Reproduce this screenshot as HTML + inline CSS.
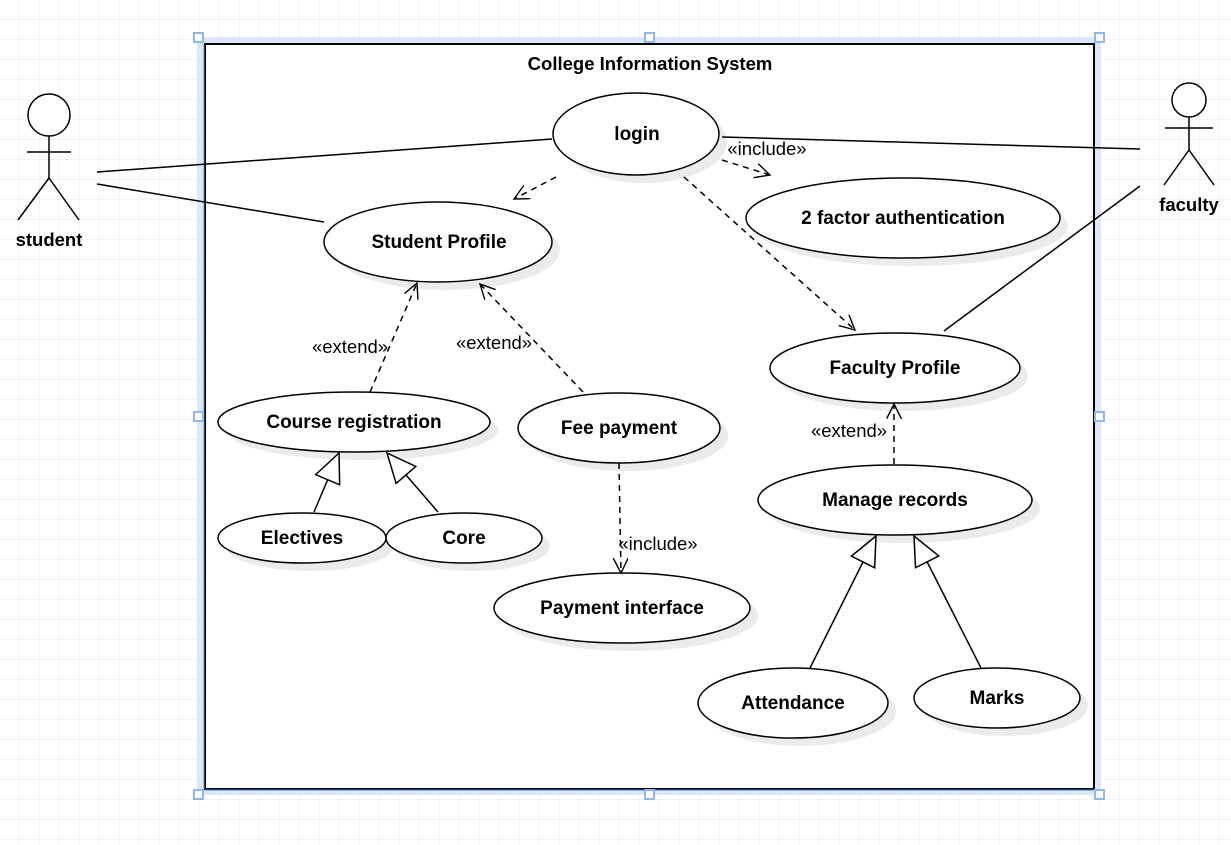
<!DOCTYPE html>
<html><head><style>
html,body{margin:0;padding:0;background:#fff;}
svg{display:block;}
text{font-family:"Liberation Sans",Arial,sans-serif;fill:#000;}
.b{font-weight:bold;font-size:19px;}
.l{font-size:18.5px;fill:#222;}
</style></head><body>
<svg width="1231" height="845" viewBox="0 0 1231 845" xmlns="http://www.w3.org/2000/svg">
<defs>
<pattern id="g" width="20" height="20" patternUnits="userSpaceOnUse">
<path d="M20 0V20M0 20H20" stroke="#e6e6e6" stroke-width="1" fill="none"/>
</pattern>
<marker id="open" markerWidth="20" markerHeight="20" refX="15" refY="7.5" orient="auto" markerUnits="userSpaceOnUse">
<path d="M0 0 L15 7.5 L0 15" fill="none" stroke="#000" stroke-width="1.4"/>
</marker>
<marker id="tri" markerWidth="34" markerHeight="30" refX="31" refY="14" orient="auto" markerUnits="userSpaceOnUse">
<path d="M31 14 L2 1 L2 27 Z" fill="#fff" stroke="#000" stroke-width="1.5"/>
</marker>
</defs>
<rect width="1231" height="845" fill="#fff"/>
<rect width="1231" height="845" fill="url(#g)"/>
<rect x="200" y="40" width="898" height="752" fill="none" stroke="#dbe8fb" stroke-width="6"/>
<rect x="205" y="44" width="889" height="745" fill="#fff" stroke="#000" stroke-width="2"/>
<line x1="204" y1="44" x2="204" y2="789" stroke="#3d7fe0" stroke-width="1"/>
<line x1="205" y1="790" x2="1094" y2="790" stroke="#3d7fe0" stroke-width="1"/>
<g fill="#fff" stroke="#8ab8f5" stroke-width="2">
<rect x="194" y="33" width="9" height="9"/><rect x="645" y="33" width="9" height="9"/><rect x="1095" y="33" width="9" height="9"/>
<rect x="194" y="412" width="9" height="9"/><rect x="1095" y="412" width="9" height="9"/>
<rect x="194" y="790" width="9" height="9"/><rect x="645" y="790" width="9" height="9"/><rect x="1095" y="790" width="9" height="9"/>
</g>
<text x="650" y="70" text-anchor="middle" class="b" style="font-size:18.5px">College Information System</text>
<g fill="#ebebeb">
<ellipse cx="644" cy="142" rx="83" ry="41"/>
<ellipse cx="911" cy="226" rx="157" ry="40"/>
<ellipse cx="446" cy="250" rx="114" ry="40"/>
<ellipse cx="903" cy="376" rx="125" ry="35"/>
<ellipse cx="362" cy="430" rx="136" ry="30"/>
<ellipse cx="627" cy="436" rx="101" ry="35"/>
<ellipse cx="903" cy="508" rx="137" ry="35"/>
<ellipse cx="310" cy="546" rx="84" ry="25"/>
<ellipse cx="472" cy="546" rx="78" ry="25"/>
<ellipse cx="630" cy="616" rx="128" ry="35"/>
<ellipse cx="801" cy="711" rx="95" ry="35"/>
<ellipse cx="1005" cy="706" rx="83" ry="30"/>
</g>
<g fill="#fff" stroke="#000" stroke-width="1.5">
<ellipse cx="636" cy="134" rx="83" ry="41"/>
<ellipse cx="903" cy="218" rx="157" ry="40"/>
<ellipse cx="438" cy="242" rx="114" ry="40"/>
<ellipse cx="895" cy="368" rx="125" ry="35"/>
<ellipse cx="354" cy="422" rx="136" ry="30"/>
<ellipse cx="619" cy="428" rx="101" ry="35"/>
<ellipse cx="895" cy="500" rx="137" ry="35"/>
<ellipse cx="302" cy="538" rx="84" ry="25"/>
<ellipse cx="464" cy="538" rx="78" ry="25"/>
<ellipse cx="622" cy="608" rx="128" ry="35"/>
<ellipse cx="793" cy="703" rx="95" ry="35"/>
<ellipse cx="997" cy="698" rx="83" ry="30"/>
</g>
<g class="b" text-anchor="middle">
<text x="637" y="140">login</text>
<text x="903" y="224">2 factor authentication</text>
<text x="439" y="248">Student Profile</text>
<text x="895" y="374">Faculty Profile</text>
<text x="354" y="428">Course registration</text>
<text x="619" y="434">Fee payment</text>
<text x="895" y="506">Manage records</text>
<text x="302" y="544">Electives</text>
<text x="464" y="544">Core</text>
<text x="622" y="614">Payment interface</text>
<text x="793" y="709">Attendance</text>
<text x="997" y="704">Marks</text>
</g>
<g fill="none" stroke="#000" stroke-width="1.5">
<circle cx="49" cy="115" r="21" fill="#fff"/>
<path d="M49 136V178M27 152H71M49 178L18 220M49 178L79 220"/>
<circle cx="1189" cy="100" r="17" fill="#fff"/>
<path d="M1189 117V150M1165 128H1213M1189 150L1164 185M1189 150L1214 185"/>
<path d="M97 172L552 139M97 184L324 222M722 137L1140 149M1140 186L944 331"/>
<g stroke-dasharray="6 5" marker-end="url(#open)">
<path d="M556 177L514 199"/>
<path d="M722 160L770 175"/>
<path d="M684 177L855 330"/>
<path d="M370 392L417 283"/>
<path d="M583 392L480 284"/>
<path d="M619 463L621 573"/>
<path d="M894 464L894 404"/>
</g>
<g marker-end="url(#tri)">
<path d="M314 512L339 453"/>
<path d="M438 512L387 453"/>
<path d="M810 668L876 536"/>
<path d="M981 668L914 536"/>
</g>
</g>
<text x="49" y="246" text-anchor="middle" class="b" style="font-size:18.5px">student</text>
<text x="1189" y="211" text-anchor="middle" class="b" style="font-size:18.5px">faculty</text>
<g class="l" text-anchor="middle">
<text x="767" y="155">«include»</text>
<text x="350" y="353">«extend»</text>
<text x="494" y="349">«extend»</text>
<text x="658" y="550">«include»</text>
<text x="849" y="437">«extend»</text>
</g>
</svg>
</body></html>
